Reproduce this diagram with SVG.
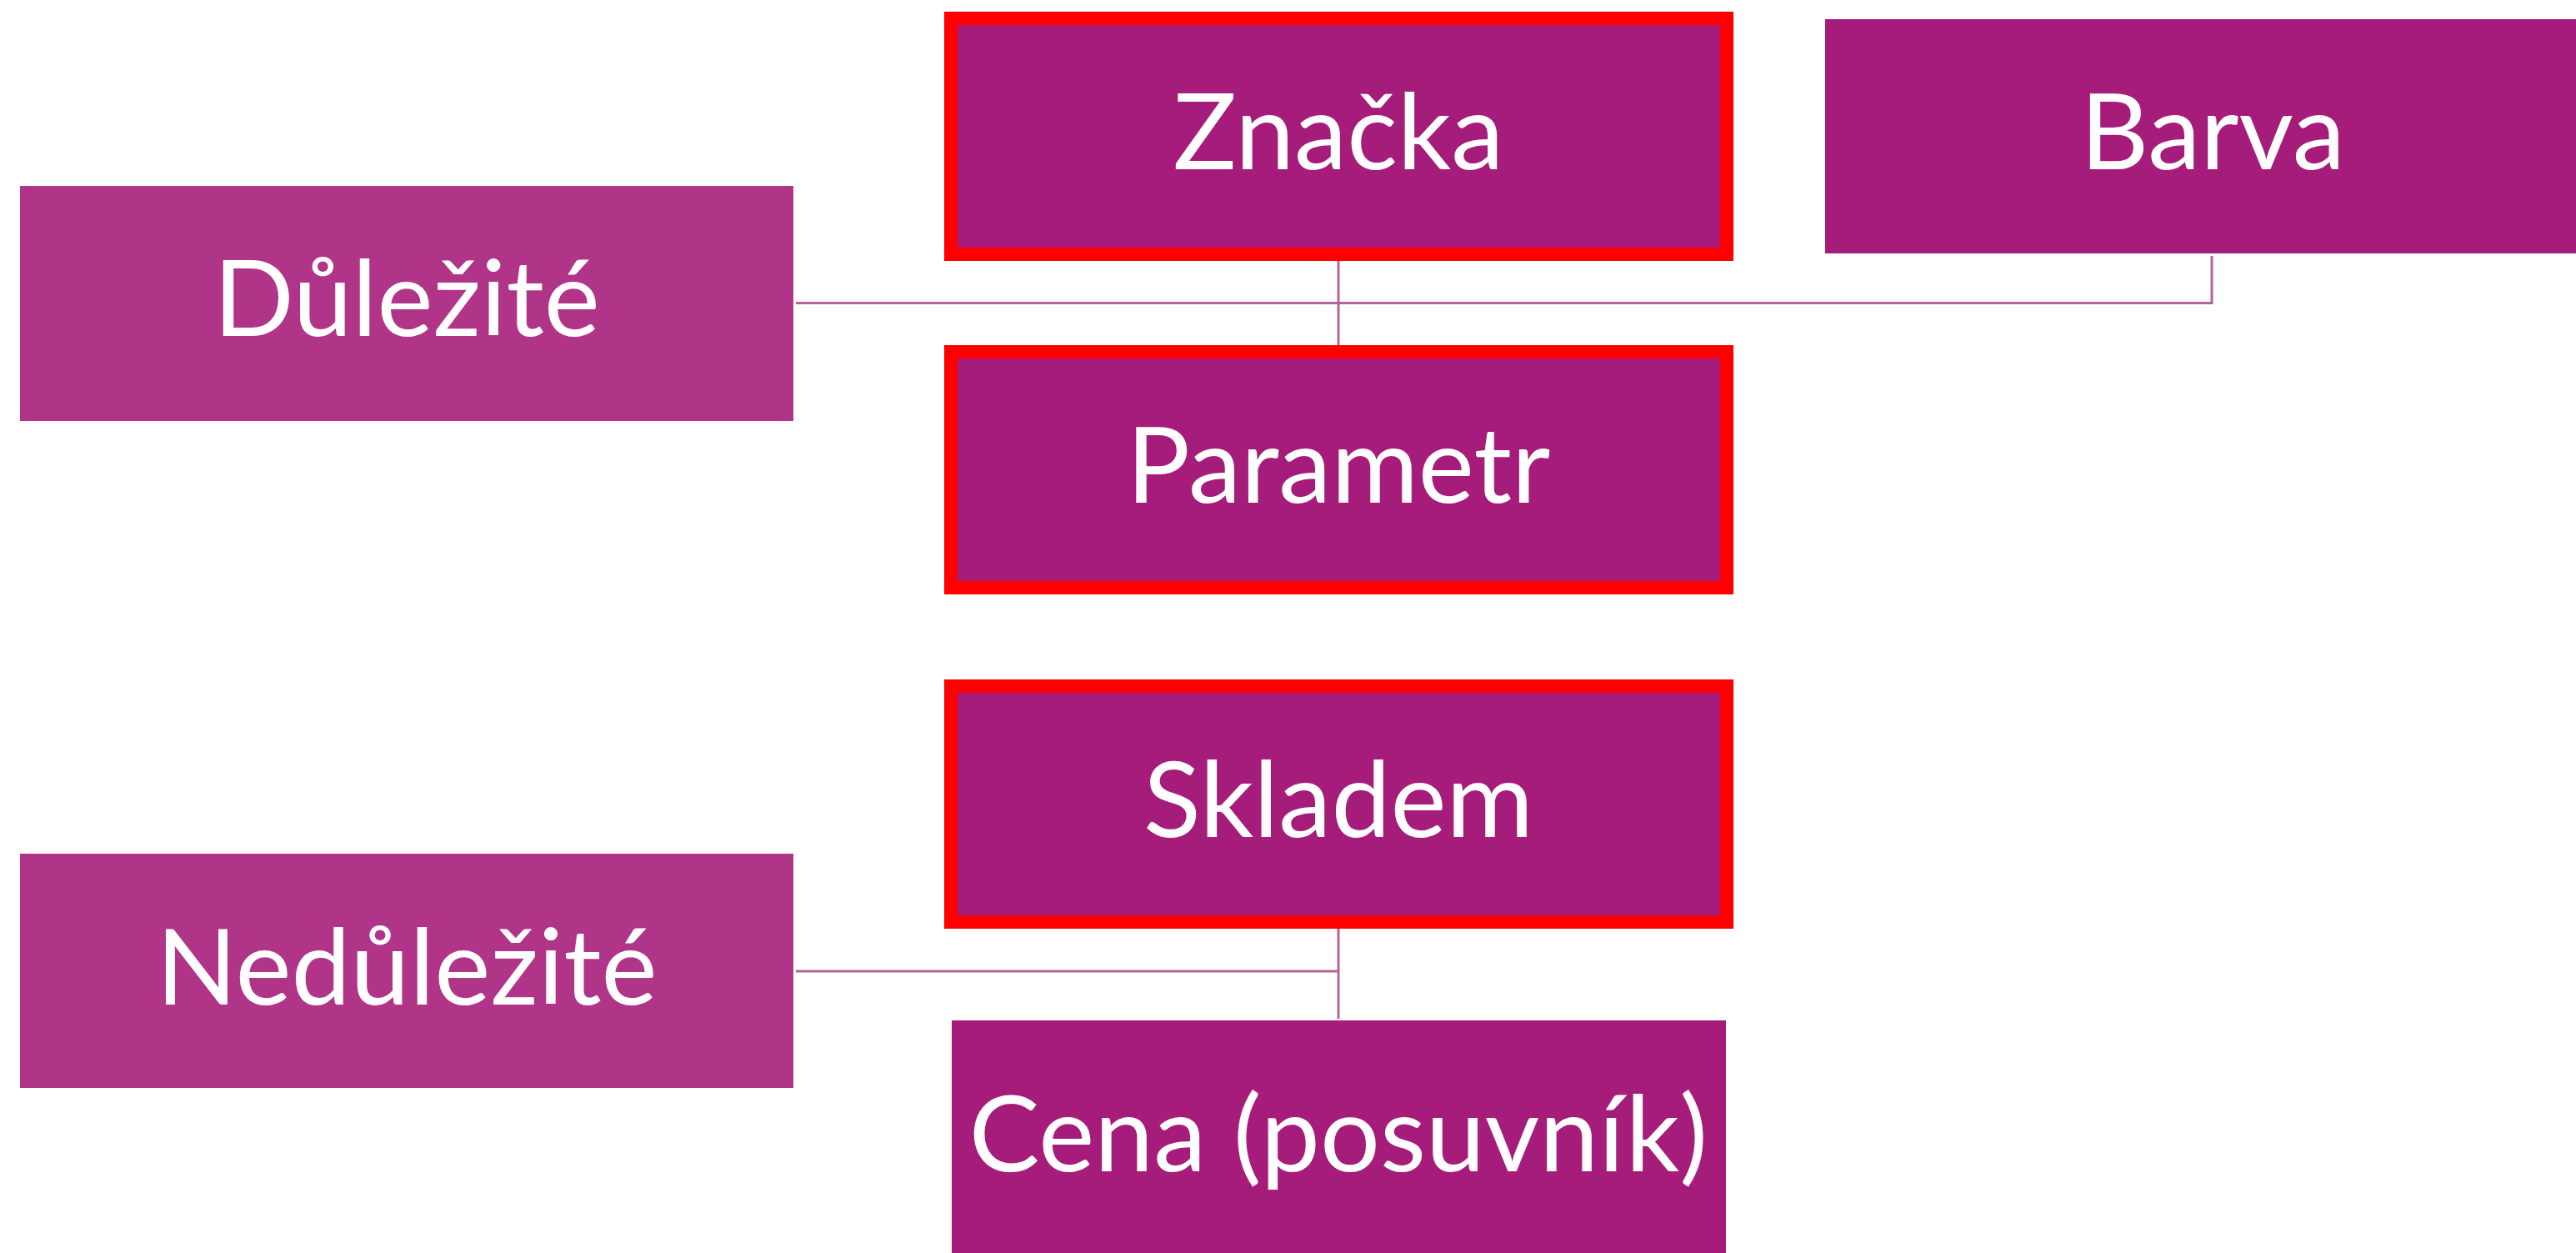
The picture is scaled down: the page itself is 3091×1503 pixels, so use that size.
<svg xmlns="http://www.w3.org/2000/svg" width="3091" height="1503" viewBox="0 0 3091 1503">
<style>
.dark{fill:#a61c7a;}
.light{fill:#b03589;}
.hl{stroke:#ff0000;stroke-width:16;}
.lbl{font-family:Lato,"Liberation Sans",sans-serif;font-size:127px;fill:#ffffff;text-anchor:middle;}
.conn{stroke:#b2659a;stroke-width:3;fill:none;}
</style>
<rect width="3091" height="1503" fill="#ffffff"/>
<g id="connectors">
<polyline class="conn" points="955,363.5 2654,363.5 2654,307"/>
<line class="conn" x1="1606" y1="313" x2="1606" y2="414"/>
<polyline class="conn" points="955,1165 1606,1165"/>
<line class="conn" x1="1606" y1="1114" x2="1606" y2="1222"/>
</g>
<g id="dulezite">
<rect class="light" x="24" y="223" width="928" height="282"/>
<text class="lbl" x="488" y="403">Důležité</text>
</g>
<g id="znacka">
<rect class="dark hl" x="1141" y="22" width="931" height="283"/>
<text class="lbl" x="1606" y="203">Značka</text>
</g>
<g id="barva">
<rect class="dark" x="2190" y="23" width="928" height="281"/>
<text class="lbl" x="2655" y="203">Barva</text>
</g>
<g id="parametr">
<rect class="dark hl" x="1141" y="422" width="931" height="283"/>
<text class="lbl" x="1606" y="603">Parametr</text>
</g>
<g id="skladem">
<rect class="dark hl" x="1141" y="823" width="931" height="283"/>
<text class="lbl" x="1606" y="1004">Skladem</text>
</g>
<g id="nedulezite">
<rect class="light" x="24" y="1024" width="928" height="281"/>
<text class="lbl" x="488" y="1205">Nedůležité</text>
</g>
<g id="cena">
<rect class="dark" x="1142" y="1224" width="929" height="282"/>
<text class="lbl" x="1606" y="1405">Cena (posuvník)</text>
</g>
</svg>
